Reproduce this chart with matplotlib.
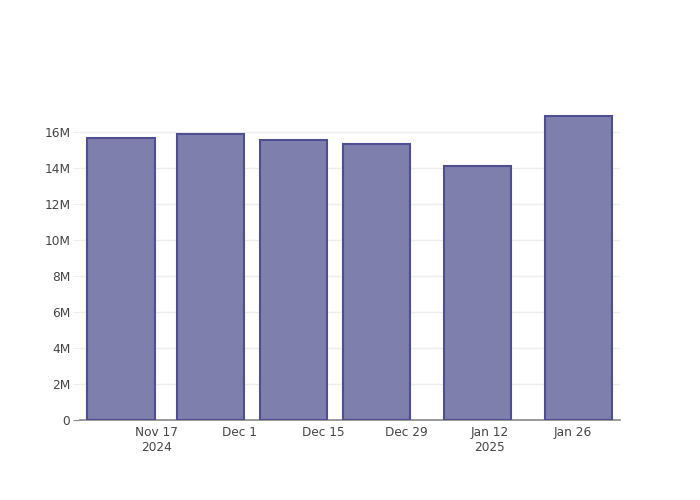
import matplotlib
matplotlib.use("Agg")
import matplotlib.pyplot as plt
import matplotlib.dates as mdates
import numpy as np
import datetime as dt

# Data
dates = ["2024-11-11", "2024-11-26", "2024-12-10", "2024-12-24", "2025-01-10", "2025-01-27"]
values = [15.67e6, 15.87e6, 15.54e6, 15.34e6, 14.08e6, 16.87e6]
tick_dates = ["2024-11-17", "2024-12-01", "2024-12-15", "2024-12-29", "2025-01-12", "2025-01-26"]
tick_labels = ["Nov 17\n2024", "Dec 1", "Dec 15", "Dec 29", "Jan 12\n2025", "Jan 26"]
y_ticks = [0, 2e6, 4e6, 6e6, 8e6, 10e6, 12e6, 14e6, 16e6]
y_labels = ["0", "2M", "4M", "6M", "8M", "10M", "12M", "14M", "16M"]

x = mdates.date2num([dt.datetime.fromisoformat(d) for d in dates])
xt = mdates.date2num([dt.datetime.fromisoformat(d) for d in tick_dates])

fig = plt.figure(figsize=(7, 5), dpi=100)
ax = fig.add_axes([80/700, 80/500, 540/700, 320/500])

ax.bar(x, values, width=11.3, color="#7f7fae", edgecolor="#4f4f8f", linewidth=1.5, zorder=3)

ax.set_xlim(xt[0] - 12.9, xt[0] + 78.0)
ax.set_ylim(0, 17.77e6)

ax.set_yticks(y_ticks)
ax.set_yticklabels(y_labels)
ax.set_xticks(xt)
ax.set_xticklabels(tick_labels)

ax.grid(axis="y", color="#eeeeee", linewidth=1, zorder=0)
for s in ["top", "right", "left"]:
    ax.spines[s].set_visible(False)
ax.spines["bottom"].set_color("#888888")
ax.spines["bottom"].set_linewidth(1.2)

ax.tick_params(axis="y", length=5, color="#eeeeee", labelsize=8.7, labelcolor="#444444", pad=2)
ax.tick_params(axis="x", length=0, labelsize=8.7, labelcolor="#444444", pad=4)
ax.get_yticklines()[0].set_color("#888888")
ax.get_yticklines()[0].set_markeredgecolor("#888888")

fig.savefig("out.png", dpi=100)
